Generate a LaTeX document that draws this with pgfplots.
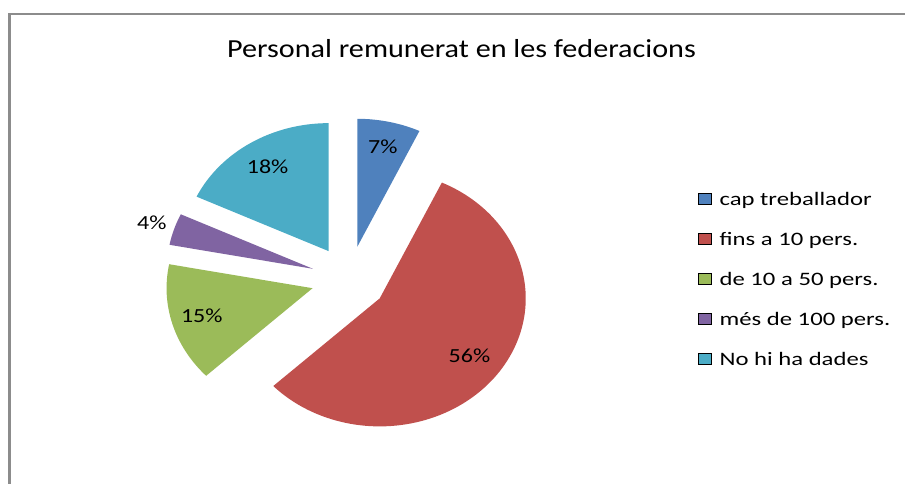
\documentclass[border=0pt]{standalone}
\usepackage{graphicx}
\usepackage{pgfplots}
\pgfplotsset{compat=1.18}
\usepackage{pgfplotstable}
\usepackage{fontspec}
\setmainfont{Carlito}

\definecolor{cBlue}{HTML}{4F81BD}
\definecolor{cRed}{HTML}{C0504D}
\definecolor{cGreen}{HTML}{9BBB59}
\definecolor{cPurple}{HTML}{8064A2}
\definecolor{cTeal}{HTML}{4BACC6}
\definecolor{frameGray}{HTML}{8C8C8C}

% horizontal stretch, the original picture is widened
\newcommand{\sx}[2]{\scalebox{#1}[1]{#2}}

% share in %, lr = where the label sits (fraction of radius)
\pgfplotstableread{
share lr
7  0.80
56 0.76
15 0.79
4  1.16
18 0.78
}\piedata

\begin{document}
\begin{tikzpicture}
\begin{axis}[
    scale only axis,
    width=905pt, height=484pt,
    xmin=0, xmax=905, ymin=0, ymax=484,
    y dir=reverse,
    hide axis,
    clip=false,
    legend image code/.code={\fill[#1] (0pt,1pt) rectangle (13pt,12pt);},
    legend style={draw=none, fill=none, inner sep=0pt,
        at={(axis cs:698,192)}, anchor=north west,
        font=\fontsize{19}{22}\selectfont,
        row sep=23pt,
        nodes={inner sep=0pt, text height=13pt, text depth=4pt, anchor=base west},
        /tikz/every odd column/.append style={column sep=8pt}},
]
% chart frame
\draw[frameGray, line width=2.5pt] (axis cs:9.5,484) -- (axis cs:9.5,14) -- (axis cs:905,14);
\node[anchor=base, font=\fontsize{26}{30}\selectfont] at (axis cs:461.5,58)
    {\sx{1.16}{Personal remunerat en les federacions}};

\pgfplotsextra{
  \xdef\startang{90}
  \foreach \i/\col in {0/cBlue,1/cRed,2/cGreen,3/cPurple,4/cTeal}{
    \pgfplotstablegetelem{\i}{share}\of\piedata \let\sh\pgfplotsretval
    \pgfplotstablegetelem{\i}{lr}\of\piedata \let\lr\pgfplotsretval
    \pgfmathsetmacro\endang{\startang-3.6*\sh}
    \pgfmathsetmacro\midang{(\startang+\endang)/2}
    \pgfmathsetmacro\lx{\lr*146}
    \pgfmathsetmacro\ly{\lr*128}
    % exploded slice: apex moved out along the bisector
    \path (axis cs:349,279) ++(\midang:37.95pt and 33pt) coordinate (O);
    \fill[\col] (O) -- ++(\startang:146pt and 128pt)
        arc[start angle=\startang, end angle=\endang, x radius=146pt, y radius=128pt] -- cycle;
    \path (O) ++(\midang:\lx pt and \ly pt)
        node[anchor=base, yshift=-6.5pt, inner sep=0pt, font=\fontsize{20}{24}\selectfont] {\sx{1.2}{\sh\%}};
    \xdef\startang{\endang}
  }
}

\addlegendimage{fill=cBlue}
\addlegendentry{\sx{1.3}{cap treballador}}
\addlegendimage{fill=cRed}
\addlegendentry{\sx{1.3}{fins a 10 pers.}}
\addlegendimage{fill=cGreen}
\addlegendentry{\sx{1.3}{de 10 a 50 pers.}}
\addlegendimage{fill=cPurple}
\addlegendentry{\sx{1.3}{més de 100 pers.}}
\addlegendimage{fill=cTeal}
\addlegendentry{\sx{1.3}{No hi ha dades}}
\end{axis}
\pgfresetboundingbox
\path (current axis.south west) rectangle (current axis.north east);
\end{tikzpicture}
\end{document}
